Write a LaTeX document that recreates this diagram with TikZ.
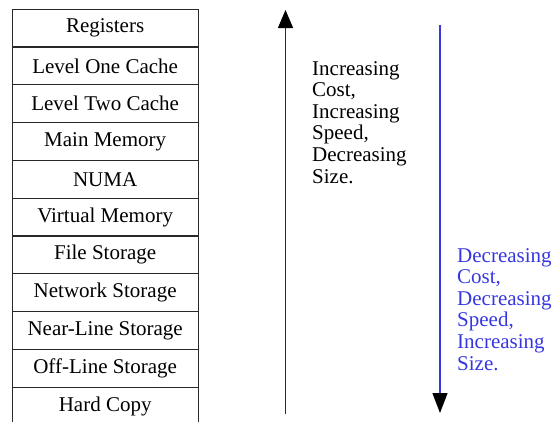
\documentclass[tikz,border=0pt]{standalone}
\usepackage{fontspec}
\setmainfont{Liberation Serif}
\usetikzlibrary{arrows.meta}
\definecolor{myblue}{RGB}{55,55,225}
\definecolor{myline}{RGB}{40,40,40}
\tikzset{
  row/.style={draw=myline, line width=1.3pt, minimum width=186pt, minimum height=37.8pt,
    inner sep=0pt, anchor=north west, font=\rmfamily\fontsize{21}{21}\selectfont},
  sidetext/.style={inner sep=0pt, anchor=north west, align=left,
    font=\rmfamily\fontsize{21}{21.6}\selectfont},
  uparrow/.style={line width=1.3pt, myline, -{Triangle[length=18pt,width=15pt,color=black]}},
  downarrow/.style={line width=1.3pt, myblue, -{Triangle[length=20pt,width=15pt,color=black]}}
}
\begin{document}
\begin{tikzpicture}[x=1pt,y=-1pt]
\useasboundingbox (0,0) rectangle (554,421);
\node[row] (r1) at (11.5,8.5) {Registers};
\node[row] (r2) at (11.5,46.3) {Level One Cache};
\node[row] (r3) at (11.5,84.1) {Level Two Cache};
\node[row] (r4) at (11.5,121.9) {Main Memory};
\node[row] (r5) at (11.5,159.7) {NUMA};
\node[row] (r6) at (11.5,197.5) {Virtual Memory};
\node[row] (r7) at (11.5,235.3) {File Storage};
\node[row] (r8) at (11.5,273.1) {Network Storage};
\node[row] (r9) at (11.5,310.9) {Near-Line Storage};
\node[row] (r10) at (11.5,348.7) {Off-Line Storage};
\node[row] (r11) at (11.5,386.5) {Hard Copy};
\coordinate (ub) at (285.5,414);
\coordinate (ut) at (285.5,10);
\draw[uparrow] (ub) -- (ut);
\coordinate (dt) at (440,25);
\coordinate (db) at (440,413);
\draw[downarrow] (dt) -- (db);
\node[sidetext] (inc) at (312,61) {Increasing\\Cost,\\Increasing\\Speed,\\Decreasing\\Size.};
\node[sidetext, text=myblue] (dec) at (457,248) {Decreasing\\Cost,\\Decreasing\\Speed,\\Increasing\\Size.};
\end{tikzpicture}
\end{document}
